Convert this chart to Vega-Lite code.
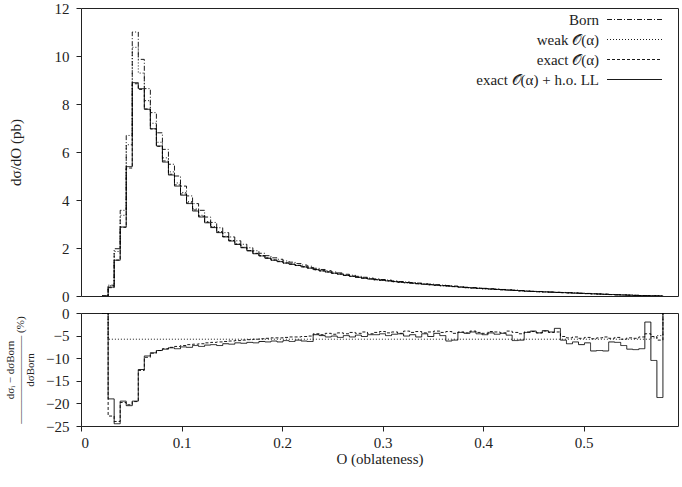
{
 "$schema": "https://vega.github.io/schema/vega-lite/v6.json",
 "padding": {"left": 4, "top": 0, "right": 1, "bottom": 0},
 "background": "white",
 "config": {
  "font": "Liberation Serif",
  "view": {"stroke": "#222", "strokeWidth": 1},
  "axis": {"domain": false, "grid": false, "labelFont": "Liberation Serif", "labelFontSize": 15, "labelColor": "#222", "tickColor": "#222", "tickSize": 5, "labelPadding": 4, "titleFont": "Liberation Serif", "titleFontSize": 15, "titleFontWeight": "normal", "titleColor": "#222"},
  "axisY": {"labelPadding": 7},
  "concat": {"spacing": 0},
  "legend": {"labelFont": "Liberation Serif", "labelFontSize": 15, "labelColor": "#222"}
 },
 "datasets": {
  "h": [
   {"x":0.021,"Born":0,"weak":0,"exact":0,"full":0},
   {"x":0.027,"Born":0.45,"weak":0.424,"exact":0.347,"full":0.37},
   {"x":0.033,"Born":1.97,"weak":1.856,"exact":1.497,"full":1.49},
   {"x":0.039,"Born":3.57,"weak":3.363,"exact":2.863,"full":2.875},
   {"x":0.045,"Born":6.69,"weak":6.302,"exact":5.332,"full":5.39},
   {"x":0.051,"Born":11.0,"weak":10.362,"exact":8.844,"full":8.89},
   {"x":0.057,"Born":9.86,"weak":9.288,"exact":8.608,"full":8.64},
   {"x":0.063,"Born":8.64,"weak":8.139,"exact":7.793,"full":7.78},
   {"x":0.069,"Born":7.64,"weak":7.197,"exact":6.96,"full":6.97},
   {"x":0.075,"Born":6.8,"weak":6.406,"exact":6.236,"full":6.25},
   {"x":0.081,"Born":6.11,"weak":5.756,"exact":5.627,"full":5.58},
   {"x":0.087,"Born":5.49,"weak":5.172,"exact":5.073,"full":5.04},
   {"x":0.093,"Born":5.0,"weak":4.71,"exact":4.63,"full":4.58},
   {"x":0.099,"Born":4.58,"weak":4.314,"exact":4.25,"full":4.2},
   {"x":0.105,"Born":4.17,"weak":3.928,"exact":3.878,"full":3.85},
   {"x":0.111,"Born":3.85,"weak":3.627,"exact":3.584,"full":3.54},
   {"x":0.117,"Born":3.57,"weak":3.363,"exact":3.327,"full":3.29},
   {"x":0.123,"Born":3.29,"weak":3.099,"exact":3.073,"full":3.05},
   {"x":0.129,"Born":3.065,"weak":2.887,"exact":2.866,"full":2.85},
   {"x":0.135,"Born":2.845,"weak":2.68,"exact":2.663,"full":2.64},
   {"x":0.141,"Born":2.64,"weak":2.487,"exact":2.474,"full":2.46},
   {"x":0.147,"Born":2.46,"weak":2.317,"exact":2.307,"full":2.29},
   {"x":0.153,"Born":2.30,"weak":2.167,"exact":2.16,"full":2.15},
   {"x":0.159,"Born":2.155,"weak":2.03,"exact":2.026,"full":2.01},
   {"x":0.165,"Born":2.01,"weak":1.893,"exact":1.891,"full":1.88},
   {"x":0.171,"Born":1.885,"weak":1.776,"exact":1.776,"full":1.76},
   {"x":0.177,"Born":1.78,"weak":1.677,"exact":1.679,"full":1.67},
   {"x":0.183,"Born":1.68,"weak":1.583,"exact":1.586,"full":1.57},
   {"x":0.189,"Born":1.59,"weak":1.498,"exact":1.503,"full":1.49},
   {"x":0.195,"Born":1.53,"weak":1.441,"exact":1.446,"full":1.43},
   {"x":0.201,"Born":1.46,"weak":1.375,"exact":1.381,"full":1.37},
   {"x":0.207,"Born":1.41,"weak":1.328,"exact":1.335,"full":1.32},
   {"x":0.213,"Born":1.35,"weak":1.272,"exact":1.278,"full":1.27},
   {"x":0.219,"Born":1.29,"weak":1.215,"exact":1.223,"full":1.21},
   {"x":0.225,"Born":1.24,"weak":1.168,"exact":1.177,"full":1.16},
   {"x":0.231,"Born":1.155,"weak":1.088,"exact":1.102,"full":1.10},
   {"x":0.237,"Born":1.105,"weak":1.041,"exact":1.052,"full":1.05},
   {"x":0.243,"Born":1.056,"weak":0.995,"exact":1.008,"full":1.00},
   {"x":0.249,"Born":1.001,"weak":0.943,"exact":0.954,"full":0.95},
   {"x":0.255,"Born":0.962,"weak":0.906,"exact":0.92,"full":0.91},
   {"x":0.261,"Born":0.905,"weak":0.853,"exact":0.863,"full":0.86},
   {"x":0.267,"Born":0.866,"weak":0.816,"exact":0.829,"full":0.82},
   {"x":0.273,"Born":0.82,"weak":0.772,"exact":0.783,"full":0.78},
   {"x":0.279,"Born":0.78,"weak":0.735,"exact":0.747,"full":0.74},
   {"x":0.285,"Born":0.746,"weak":0.703,"exact":0.712,"full":0.71},
   {"x":0.291,"Born":0.714,"weak":0.673,"exact":0.683,"full":0.68},
   {"x":0.297,"Born":0.687,"weak":0.647,"exact":0.659,"full":0.655},
   {"x":0.303,"Born":0.663,"weak":0.625,"exact":0.634,"full":0.63},
   {"x":0.309,"Born":0.63,"weak":0.593,"exact":0.604,"full":0.60},
   {"x":0.315,"Born":0.603,"weak":0.568,"exact":0.576,"full":0.575},
   {"x":0.321,"Born":0.585,"weak":0.551,"exact":0.562,"full":0.555},
   {"x":0.327,"Born":0.562,"weak":0.529,"exact":0.538,"full":0.535},
   {"x":0.333,"Born":0.539,"weak":0.508,"exact":0.517,"full":0.51},
   {"x":0.339,"Born":0.514,"weak":0.484,"exact":0.491,"full":0.49},
   {"x":0.345,"Born":0.496,"weak":0.467,"exact":0.475,"full":0.47},
   {"x":0.351,"Born":0.471,"weak":0.444,"exact":0.452,"full":0.45},
   {"x":0.357,"Born":0.453,"weak":0.427,"exact":0.434,"full":0.43},
   {"x":0.363,"Born":0.437,"weak":0.412,"exact":0.419,"full":0.41},
   {"x":0.369,"Born":0.415,"weak":0.391,"exact":0.396,"full":0.39},
   {"x":0.375,"Born":0.387,"weak":0.365,"exact":0.371,"full":0.37},
   {"x":0.381,"Born":0.366,"weak":0.345,"exact":0.35,"full":0.35},
   {"x":0.387,"Born":0.35,"weak":0.33,"exact":0.336,"full":0.335},
   {"x":0.393,"Born":0.335,"weak":0.316,"exact":0.321,"full":0.32},
   {"x":0.399,"Born":0.32,"weak":0.301,"exact":0.306,"full":0.305},
   {"x":0.405,"Born":0.303,"weak":0.285,"exact":0.291,"full":0.29},
   {"x":0.411,"Born":0.289,"weak":0.272,"exact":0.277,"full":0.275},
   {"x":0.417,"Born":0.272,"weak":0.256,"exact":0.26,"full":0.26},
   {"x":0.423,"Born":0.258,"weak":0.243,"exact":0.248,"full":0.245},
   {"x":0.429,"Born":0.245,"weak":0.231,"exact":0.234,"full":0.23},
   {"x":0.435,"Born":0.229,"weak":0.216,"exact":0.218,"full":0.215},
   {"x":0.441,"Born":0.209,"weak":0.197,"exact":0.2,"full":0.20},
   {"x":0.447,"Born":0.198,"weak":0.187,"exact":0.19,"full":0.19},
   {"x":0.453,"Born":0.188,"weak":0.177,"exact":0.18,"full":0.18},
   {"x":0.459,"Born":0.177,"weak":0.167,"exact":0.17,"full":0.17},
   {"x":0.465,"Born":0.167,"weak":0.157,"exact":0.16,"full":0.16},
   {"x":0.471,"Born":0.155,"weak":0.146,"exact":0.148,"full":0.15},
   {"x":0.477,"Born":0.149,"weak":0.14,"exact":0.141,"full":0.14},
   {"x":0.483,"Born":0.139,"weak":0.131,"exact":0.131,"full":0.13},
   {"x":0.489,"Born":0.128,"weak":0.121,"exact":0.121,"full":0.12},
   {"x":0.495,"Born":0.118,"weak":0.111,"exact":0.111,"full":0.11},
   {"x":0.501,"Born":0.107,"weak":0.101,"exact":0.101,"full":0.10},
   {"x":0.507,"Born":0.098,"weak":0.092,"exact":0.092,"full":0.09},
   {"x":0.513,"Born":0.087,"weak":0.082,"exact":0.082,"full":0.08},
   {"x":0.519,"Born":0.076,"weak":0.072,"exact":0.072,"full":0.07},
   {"x":0.525,"Born":0.064,"weak":0.06,"exact":0.06,"full":0.06},
   {"x":0.531,"Born":0.053,"weak":0.05,"exact":0.05,"full":0.05},
   {"x":0.537,"Born":0.045,"weak":0.042,"exact":0.042,"full":0.042},
   {"x":0.543,"Born":0.037,"weak":0.035,"exact":0.035,"full":0.034},
   {"x":0.549,"Born":0.028,"weak":0.026,"exact":0.026,"full":0.026},
   {"x":0.555,"Born":0.021,"weak":0.02,"exact":0.02,"full":0.019},
   {"x":0.561,"Born":0.013,"weak":0.012,"exact":0.012,"full":0.013},
   {"x":0.567,"Born":0.009,"weak":0.008,"exact":0.009,"full":0.008},
   {"x":0.573,"Born":0.005,"weak":0.005,"exact":0.005,"full":0.004},
   {"x":0.579,"Born":0,"weak":0,"exact":0,"full":0}
  ],
  "r": [
   {"x":0.021,"weak":0,"exact":0,"full":0},
   {"x":0.027,"weak":-5.8,"exact":-22.8,"full":-19.0},
   {"x":0.033,"weak":-5.8,"exact":-24.0,"full":-24.5},
   {"x":0.039,"weak":-5.8,"exact":-19.8,"full":-19.5},
   {"x":0.045,"weak":-5.8,"exact":-20.3,"full":-20.5},
   {"x":0.051,"weak":-5.8,"exact":-19.6,"full":-19.5},
   {"x":0.057,"weak":-5.8,"exact":-12.7,"full":-12.5},
   {"x":0.063,"weak":-5.8,"exact":-9.8,"full":-9.5},
   {"x":0.069,"weak":-5.8,"exact":-8.9,"full":-8.8},
   {"x":0.075,"weak":-5.8,"exact":-8.3,"full":-8.3},
   {"x":0.081,"weak":-5.8,"exact":-7.9,"full":-8.0},
   {"x":0.087,"weak":-5.8,"exact":-7.6,"full":-7.7},
   {"x":0.093,"weak":-5.8,"exact":-7.4,"full":-7.9},
   {"x":0.099,"weak":-5.8,"exact":-7.2,"full":-7.5},
   {"x":0.105,"weak":-5.8,"exact":-7.0,"full":-7.6},
   {"x":0.111,"weak":-5.8,"exact":-6.9,"full":-7.2},
   {"x":0.117,"weak":-5.8,"exact":-6.8,"full":-7.4},
   {"x":0.123,"weak":-5.8,"exact":-6.6,"full":-7.1},
   {"x":0.129,"weak":-5.8,"exact":-6.5,"full":-7.0},
   {"x":0.135,"weak":-5.8,"exact":-6.4,"full":-7.2},
   {"x":0.141,"weak":-5.8,"exact":-6.3,"full":-6.8},
   {"x":0.147,"weak":-5.8,"exact":-6.2,"full":-6.9},
   {"x":0.153,"weak":-5.8,"exact":-6.1,"full":-6.6},
   {"x":0.159,"weak":-5.8,"exact":-6.0,"full":-6.7},
   {"x":0.165,"weak":-5.8,"exact":-5.9,"full":-6.5},
   {"x":0.171,"weak":-5.8,"exact":-5.8,"full":-6.6},
   {"x":0.177,"weak":-5.8,"exact":-5.7,"full":-6.3},
   {"x":0.183,"weak":-5.8,"exact":-5.6,"full":-6.4},
   {"x":0.189,"weak":-5.8,"exact":-5.5,"full":-6.2},
   {"x":0.195,"weak":-5.8,"exact":-5.5,"full":-6.4},
   {"x":0.201,"weak":-5.8,"exact":-5.4,"full":-6.1},
   {"x":0.207,"weak":-5.8,"exact":-5.3,"full":-6.3},
   {"x":0.213,"weak":-5.8,"exact":-5.3,"full":-6.0},
   {"x":0.219,"weak":-5.8,"exact":-5.2,"full":-6.2},
   {"x":0.225,"weak":-5.8,"exact":-5.1,"full":-6.3},
   {"x":0.231,"weak":-5.8,"exact":-4.6,"full":-4.8},
   {"x":0.237,"weak":-5.8,"exact":-4.8,"full":-5.0},
   {"x":0.243,"weak":-5.8,"exact":-4.5,"full":-5.3},
   {"x":0.249,"weak":-5.8,"exact":-4.7,"full":-5.1},
   {"x":0.255,"weak":-5.8,"exact":-4.4,"full":-5.4},
   {"x":0.261,"weak":-5.8,"exact":-4.6,"full":-5.0},
   {"x":0.267,"weak":-5.8,"exact":-4.3,"full":-5.3},
   {"x":0.273,"weak":-5.8,"exact":-4.5,"full":-4.9},
   {"x":0.279,"weak":-5.8,"exact":-4.2,"full":-5.2},
   {"x":0.285,"weak":-5.8,"exact":-4.6,"full":-4.8},
   {"x":0.291,"weak":-5.8,"exact":-4.3,"full":-4.8},
   {"x":0.297,"weak":-5.8,"exact":-4.1,"full":-4.6},
   {"x":0.303,"weak":-5.8,"exact":-4.4,"full":-5.0},
   {"x":0.309,"weak":-5.8,"exact":-4.2,"full":-4.7},
   {"x":0.315,"weak":-5.8,"exact":-4.5,"full":-4.6},
   {"x":0.321,"weak":-5.8,"exact":-4.0,"full":-5.1},
   {"x":0.327,"weak":-5.8,"exact":-4.3,"full":-4.8},
   {"x":0.333,"weak":-5.8,"exact":-4.1,"full":-5.3},
   {"x":0.339,"weak":-5.8,"exact":-4.4,"full":-4.6},
   {"x":0.345,"weak":-5.8,"exact":-4.2,"full":-5.2},
   {"x":0.351,"weak":-5.8,"exact":-4.0,"full":-4.5},
   {"x":0.357,"weak":-5.8,"exact":-4.3,"full":-5.0},
   {"x":0.363,"weak":-5.8,"exact":-4.1,"full":-6.2},
   {"x":0.369,"weak":-5.8,"exact":-4.5,"full":-6.0},
   {"x":0.375,"weak":-5.8,"exact":-4.2,"full":-4.3},
   {"x":0.381,"weak":-5.8,"exact":-4.4,"full":-4.5},
   {"x":0.387,"weak":-5.8,"exact":-4.0,"full":-4.2},
   {"x":0.393,"weak":-5.8,"exact":-4.3,"full":-4.6},
   {"x":0.399,"weak":-5.8,"exact":-4.5,"full":-4.8},
   {"x":0.405,"weak":-5.8,"exact":-4.1,"full":-4.4},
   {"x":0.411,"weak":-5.8,"exact":-4.2,"full":-4.7},
   {"x":0.417,"weak":-5.8,"exact":-4.4,"full":-4.5},
   {"x":0.423,"weak":-5.8,"exact":-4.0,"full":-4.9},
   {"x":0.429,"weak":-5.8,"exact":-4.3,"full":-6.1},
   {"x":0.435,"weak":-5.8,"exact":-4.6,"full":-6.0},
   {"x":0.441,"weak":-5.8,"exact":-4.2,"full":-4.3},
   {"x":0.447,"weak":-5.8,"exact":-4.1,"full":-4.0},
   {"x":0.453,"weak":-5.8,"exact":-4.4,"full":-4.4},
   {"x":0.459,"weak":-5.8,"exact":-4.0,"full":-3.9},
   {"x":0.465,"weak":-5.8,"exact":-4.3,"full":-4.2},
   {"x":0.471,"weak":-5.8,"exact":-4.2,"full":-3.4},
   {"x":0.477,"weak":-5.8,"exact":-5.2,"full":-6.0},
   {"x":0.483,"weak":-5.8,"exact":-5.5,"full":-6.8},
   {"x":0.489,"weak":-5.8,"exact":-5.3,"full":-6.4},
   {"x":0.495,"weak":-5.8,"exact":-5.6,"full":-7.0},
   {"x":0.501,"weak":-5.8,"exact":-5.4,"full":-6.6},
   {"x":0.507,"weak":-5.8,"exact":-5.7,"full":-8.4},
   {"x":0.513,"weak":-5.8,"exact":-5.5,"full":-8.3},
   {"x":0.519,"weak":-5.8,"exact":-5.3,"full":-8.4},
   {"x":0.525,"weak":-5.8,"exact":-5.6,"full":-6.4},
   {"x":0.531,"weak":-5.8,"exact":-5.4,"full":-6.5},
   {"x":0.537,"weak":-5.8,"exact":-5.8,"full":-7.2},
   {"x":0.543,"weak":-5.8,"exact":-5.5,"full":-8.0},
   {"x":0.549,"weak":-5.8,"exact":-5.6,"full":-8.1},
   {"x":0.555,"weak":-5.8,"exact":-5.3,"full":-7.9},
   {"x":0.561,"weak":-5.8,"exact":-4.6,"full":-2.0},
   {"x":0.567,"weak":-5.5,"exact":-5.2,"full":-10.5},
   {"x":0.573,"weak":-5.0,"exact":-6.0,"full":-18.7},
   {"x":0.579,"weak":0,"exact":0,"full":0}
  ]
 },
 "vconcat": [
  {
   "width": 597, "height": 288,
   "data": {"name": "h"},
   "transform": [{"fold": ["Born", "weak", "exact", "full"], "as": ["series", "value"]}],
   "mark": {"type": "line", "interpolate": "step-after", "color": "black", "clip": true},
   "encoding": {
    "x": {"field": "x", "type": "quantitative", "scale": {"domain": [0, 0.594], "nice": false, "zero": false}, "axis": null},
    "y": {"field": "value", "type": "quantitative", "scale": {"domain": [0, 12], "nice": false}, "axis": {"values": [0, 2, 4, 6, 8, 10, 12], "title": "dσ/dO (pb)", "titlePadding": 31}},
    "strokeDash": {"field": "series", "type": "nominal", "scale": {"domain": ["Born", "weak", "exact", "full"], "range": [[5, 2, 1, 2], [1, 2], [3, 2], [1, 0]]},
     "legend": {"title": null, "orient": "none", "legendX": 546, "legendY": 4, "symbolType": "M-5,0L5,0", "symbolSize": 121, "symbolStrokeWidth": 1, "symbolStrokeColor": "black", "labelAlign": "right", "labelOffset": -43, "rowPadding": 4,
      "labelExpr": "datum.label == 'Born' ? 'Born' : datum.label == 'weak' ? 'weak 𝒪(α)' : datum.label == 'exact' ? 'exact 𝒪(α)' : 'exact 𝒪(α) + h.o. LL'"}},
    "strokeWidth": {"field": "series", "type": "nominal", "scale": {"domain": ["Born", "weak", "exact", "full"], "range": [0.9, 0.9, 0.9, 1.4]}, "legend": null}
   }
  },
  {
   "width": 597, "height": 113,
   "data": {"name": "r"},
   "transform": [{"fold": ["weak", "exact", "full"], "as": ["series", "value"]}],
   "mark": {"type": "line", "interpolate": "step-after", "color": "black", "clip": true},
   "encoding": {
    "x": {"field": "x", "type": "quantitative", "scale": {"domain": [0, 0.594], "nice": false, "zero": false}, "axis": {"values": [0, 0.1, 0.2, 0.3, 0.4, 0.5], "format": "~g", "title": "O (oblateness)", "labelPadding": 4, "titlePadding": 1}},
    "y": {"field": "value", "type": "quantitative", "scale": {"domain": [-25, 0], "nice": false}, "axis": {"values": [0, -5, -10, -15, -20, -25], "title": ["dσᵢ − dσBorn          ", "————————   (%)", "dσBorn                "], "titleFontSize": 11, "titleLineHeight": 10, "titlePadding": 10}},
    "strokeDash": {"field": "series", "type": "nominal", "scale": {"domain": ["Born", "weak", "exact", "full"], "range": [[5, 2, 1, 2], [1, 2], [3, 2], [1, 0]]}, "legend": null},
    "strokeWidth": {"field": "series", "type": "nominal", "scale": {"domain": ["Born", "weak", "exact", "full"], "range": [0.9, 0.9, 0.9, 1.4]}, "legend": null}
   }
  }
 ]
}
